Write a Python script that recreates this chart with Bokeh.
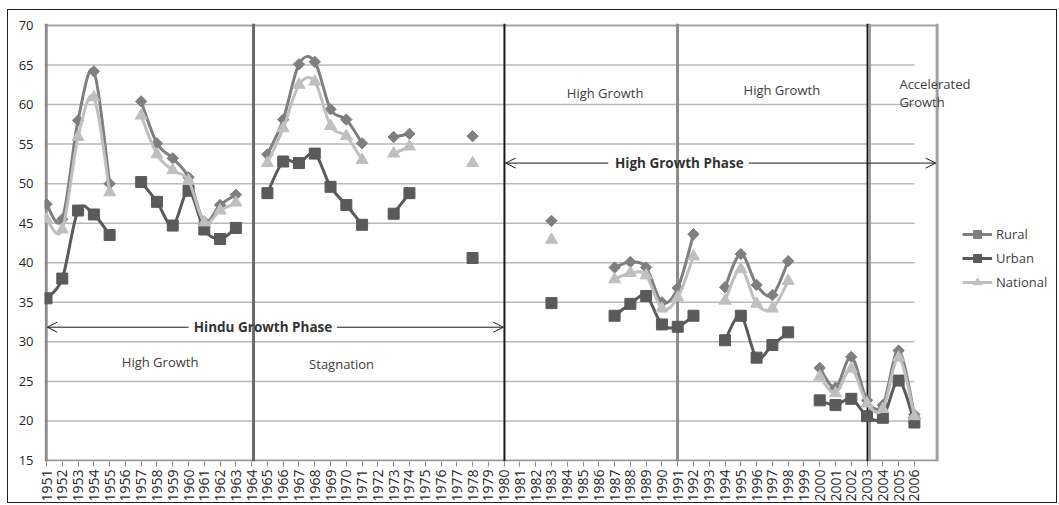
import numpy as np
from bokeh.plotting import figure
from bokeh.models import (Range1d, FixedTicker, Label, Arrow, OpenHead, Legend,
                          LegendItem, ColumnDataSource)
from bokeh.embed import file_html
from bokeh.resources import INLINE

# ---------------- data ----------------
years = [1951, 1952, 1953, 1954, 1955, 1956, 1957, 1958, 1959, 1960, 1961, 1962, 1963, 1964,
         1965, 1966, 1967, 1968, 1969, 1970, 1971, 1972, 1973, 1974, 1975, 1976, 1977, 1978,
         1979, 1980, 1981, 1982, 1983, 1984, 1985, 1986, 1987, 1988, 1989, 1990, 1991, 1992,
         1993, 1994, 1995, 1996, 1997, 1998, 1999, 2000, 2001, 2002, 2003, 2004, 2005, 2006]

rural = [47.4, 45.5, 58.0, 64.2, 50.0, None, 60.4, 55.1, 53.2, 50.8, 45.2, 47.3, 48.6, None,
         53.7, 58.1, 65.1, 65.4, 59.4, 58.1, 55.1, None, 55.9, 56.3, None, None, None, 56.0,
         None, None, None, None, 45.3, None, None, None, 39.4, 40.1, 39.4, 35.0, 36.8, 43.6,
         None, 36.9, 41.1, 37.2, 35.9, 40.2, None, 26.7, 24.2, 28.1, 22.6, 22.0, 28.9, 20.8]

urban = [35.5, 38.0, 46.6, 46.1, 43.5, None, 50.2, 47.7, 44.7, 49.1, 44.2, 43.0, 44.4, None,
         48.8, 52.8, 52.6, 53.8, 49.6, 47.3, 44.8, None, 46.2, 48.8, None, None, None, 40.6,
         None, None, None, None, 34.9, None, None, None, 33.3, 34.8, 35.8, 32.2, 31.9, 33.3,
         None, 30.2, 33.3, 28.0, 29.6, 31.2, None, 22.6, 22.0, 22.8, 20.6, 20.4, 25.1, 19.8]

national = [45.5, 44.2, 55.9, 60.9, 48.9, None, 58.6, 53.7, 51.7, 50.4, 45.1, 46.6, 47.6, None,
            52.6, 57.0, 62.5, 62.9, 57.3, 56.0, 53.0, None, 53.8, 54.7, None, None, None, 52.6,
            None, None, None, None, 42.9, None, None, None, 37.9, 38.7, 38.4, 34.2, 35.6, 40.8,
            None, 35.2, 39.2, 34.8, 34.2, 37.7, None, 25.6, 23.5, 26.6, 22.2, 21.5, 28.0, 20.6]

y_ticks = [15, 20, 25, 30, 35, 40, 45, 50, 55, 60, 65, 70]
series_names = ["Rural", "Urban", "National"]

phase_labels = ["Hindu Growth Phase", "High Growth Phase"]
period_labels = ["High Growth", "Stagnation", "High Growth", "High Growth", "Accelerated", "Growth"]

# ---------------- layout / style ----------------
W, H = 1050, 494
FONT = "Open Sans"
TXT = "#404040"
X0 = 1950.873                # frame left edge (data units)
PX_PER_YEAR = 15.78
X1 = X0 + 1012 / PX_PER_YEAR  # frame right edge (data units)
BOX_R = 2007.46              # right edge of the drawn chart box

p = figure(width=W, height=H, output_backend="svg", toolbar_location=None,
           x_range=Range1d(X0, X1), y_range=Range1d(14.87, 70.25),
           min_border_left=36, min_border_right=2, min_border_top=13, min_border_bottom=42,
           styles={"border": "1px solid #222222", "margin-left": "7px", "margin-top": "9px"})
p.outline_line_color = None
p.xgrid.visible = False
p.ygrid.visible = False
p.background_fill_color = "white"
p.border_fill_color = "white"

# axes
p.xaxis.ticker = FixedTicker(ticks=years)
p.xaxis.major_label_orientation = np.pi / 2
p.xaxis.major_label_text_font = FONT
p.xaxis.major_label_text_font_size = "14px"
p.xaxis.major_label_text_color = "#262626"
p.xaxis.major_tick_in = 0
p.xaxis.major_tick_out = 5
p.xaxis.major_tick_line_color = "#8c8c8c"
p.xaxis.minor_tick_line_color = None
p.xaxis.axis_line_color = None
p.xaxis.major_label_standoff = 3

p.yaxis.ticker = FixedTicker(ticks=y_ticks)
p.yaxis.axis_line_color = None
p.yaxis.major_tick_line_color = None
p.yaxis.minor_tick_line_color = None
p.yaxis.major_tick_out = 0
p.yaxis.major_label_standoff = 11
p.yaxis.major_label_text_font = FONT
p.yaxis.major_label_text_font_size = "13px"
p.yaxis.major_label_text_color = "#262626"

# horizontal grid lines (end at last category)
grid_vals = y_ticks[1:-1]
p.segment(x0=[X0] * len(grid_vals), x1=[years[-1]] * len(grid_vals),
          y0=grid_vals, y1=grid_vals, line_color="#b9b9b9", line_width=1.5)
# top and bottom edges of the chart box
p.segment(x0=[X0, X0], x1=[BOX_R, BOX_R], y0=[y_ticks[-1], y_ticks[0]], y1=[y_ticks[-1], y_ticks[0]],
          line_color=["#a3a3a3", "#9a9a9a"], line_width=2)

# phase boundary lines
vx = [1950.98, 1964.12, 1980.02, 1990.99, 2003.03, 2003.17, BOX_R - 0.02]
vcol = ["#8a8a8a", "#6a6a6a", "#1a1a1a", "#8c8c8c", "#1a1a1a", "#9a9a9a", "#a0a0a0"]
vw = [3, 3, 2, 3, 2, 2.5, 3]
p.segment(x0=vx, x1=vx, y0=[14.87] * len(vx), y1=[70.25] * len(vx), line_color=vcol, line_width=vw)


def bezier_source(xs, ys):
    runs, cur = [], []
    for x, y in zip(xs, ys):
        if y is None:
            if cur:
                runs.append(cur)
            cur = []
        else:
            cur.append((x, y))
    if cur:
        runs.append(cur)
    d = dict(x0=[], y0=[], x1=[], y1=[], cx0=[], cy0=[], cx1=[], cy1=[])
    for run in runs:
        n = len(run)
        for i in range(n - 1):
            p0 = run[i - 1] if i > 0 else run[i]
            p1, p2 = run[i], run[i + 1]
            p3 = run[i + 2] if i + 2 < n else run[i + 1]
            d["x0"].append(p1[0]); d["y0"].append(p1[1])
            d["x1"].append(p2[0]); d["y1"].append(p2[1])
            d["cx0"].append(p1[0] + (p2[0] - p0[0]) / 6.0)
            d["cy0"].append(p1[1] + (p2[1] - p0[1]) / 6.0)
            d["cx1"].append(p2[0] - (p3[0] - p1[0]) / 6.0)
            d["cy1"].append(p2[1] - (p3[1] - p1[1]) / 6.0)
    return ColumnDataSource(d)


def points_source(xs, ys):
    px = [x for x, y in zip(xs, ys) if y is not None]
    py = [y for y in ys if y is not None]
    return ColumnDataSource(dict(x=px, y=py))


styles = [
    dict(color="#7f7f7f", marker="square", size=8, angle=np.pi / 4),
    dict(color="#5a5a5a", marker="square", size=11, angle=0),
    dict(color="#bfbfbf", marker="triangle", size=12, angle=0),
]

items = []
for name, vals, st in zip(series_names, [rural, urban, national], styles):
    br = p.bezier(x0="x0", y0="y0", x1="x1", y1="y1", cx0="cx0", cy0="cy0", cx1="cx1", cy1="cy1",
                  source=bezier_source(years, vals), line_color=st["color"], line_width=3)
    sr = p.scatter(x="x", y="y", source=points_source(years, vals), marker=st["marker"],
                   size=st["size"], angle=st["angle"], fill_color=st["color"],
                   line_color=st["color"])
    items.append(LegendItem(label=name, renderers=[br, sr]))

legend = Legend(items=items, location=(918, 169), border_line_color=None,
                background_fill_alpha=0, padding=0, margin=0, spacing=4,
                glyph_width=30, glyph_height=20, label_height=20, label_standoff=4,
                label_text_font=FONT, label_text_font_size="13px", label_text_color=TXT)
p.add_layout(legend)

# period texts
per_x = [1958.2, 1969.7, 1986.4, 1997.6, 2005.05, 2005.05]
per_y = [27.4, 27.2, 61.5, 61.8, 62.6, 60.3]
per_align = ["center", "center", "center", "center", "left", "left"]
for t, x, y, a in zip(period_labels, per_x, per_y, per_align):
    p.add_layout(Label(x=x, y=y, text=t, text_font=FONT, text_font_size="13px",
                       text_color=TXT, text_align=a, text_baseline="middle"))

# phase texts + arrows
ph_x = [1964.72, 1991.1]
ph_y = [31.85, 52.6]
for t, x, y in zip(phase_labels, ph_x, ph_y):
    p.add_layout(Label(x=x, y=y, text=t, text_font=FONT, text_font_size="13.5px",
                       text_font_style="bold", text_color="#333333",
                       text_align="center", text_baseline="middle"))

arr_start = [1960.0, 1969.4, 1986.6, 1995.5]
arr_end = [1951.05, 1979.95, 1980.1, 2007.35]
arr_y = [31.85, 31.85, 52.6, 52.6]
for xs, xe, y in zip(arr_start, arr_end, arr_y):
    p.add_layout(Arrow(x_start=xs, y_start=y, x_end=xe, y_end=y, line_width=1,
                       line_color="#1a1a1a",
                       end=OpenHead(size=10, line_width=1, line_color="#1a1a1a")))

open("out.html", "w").write(file_html(p, INLINE))
